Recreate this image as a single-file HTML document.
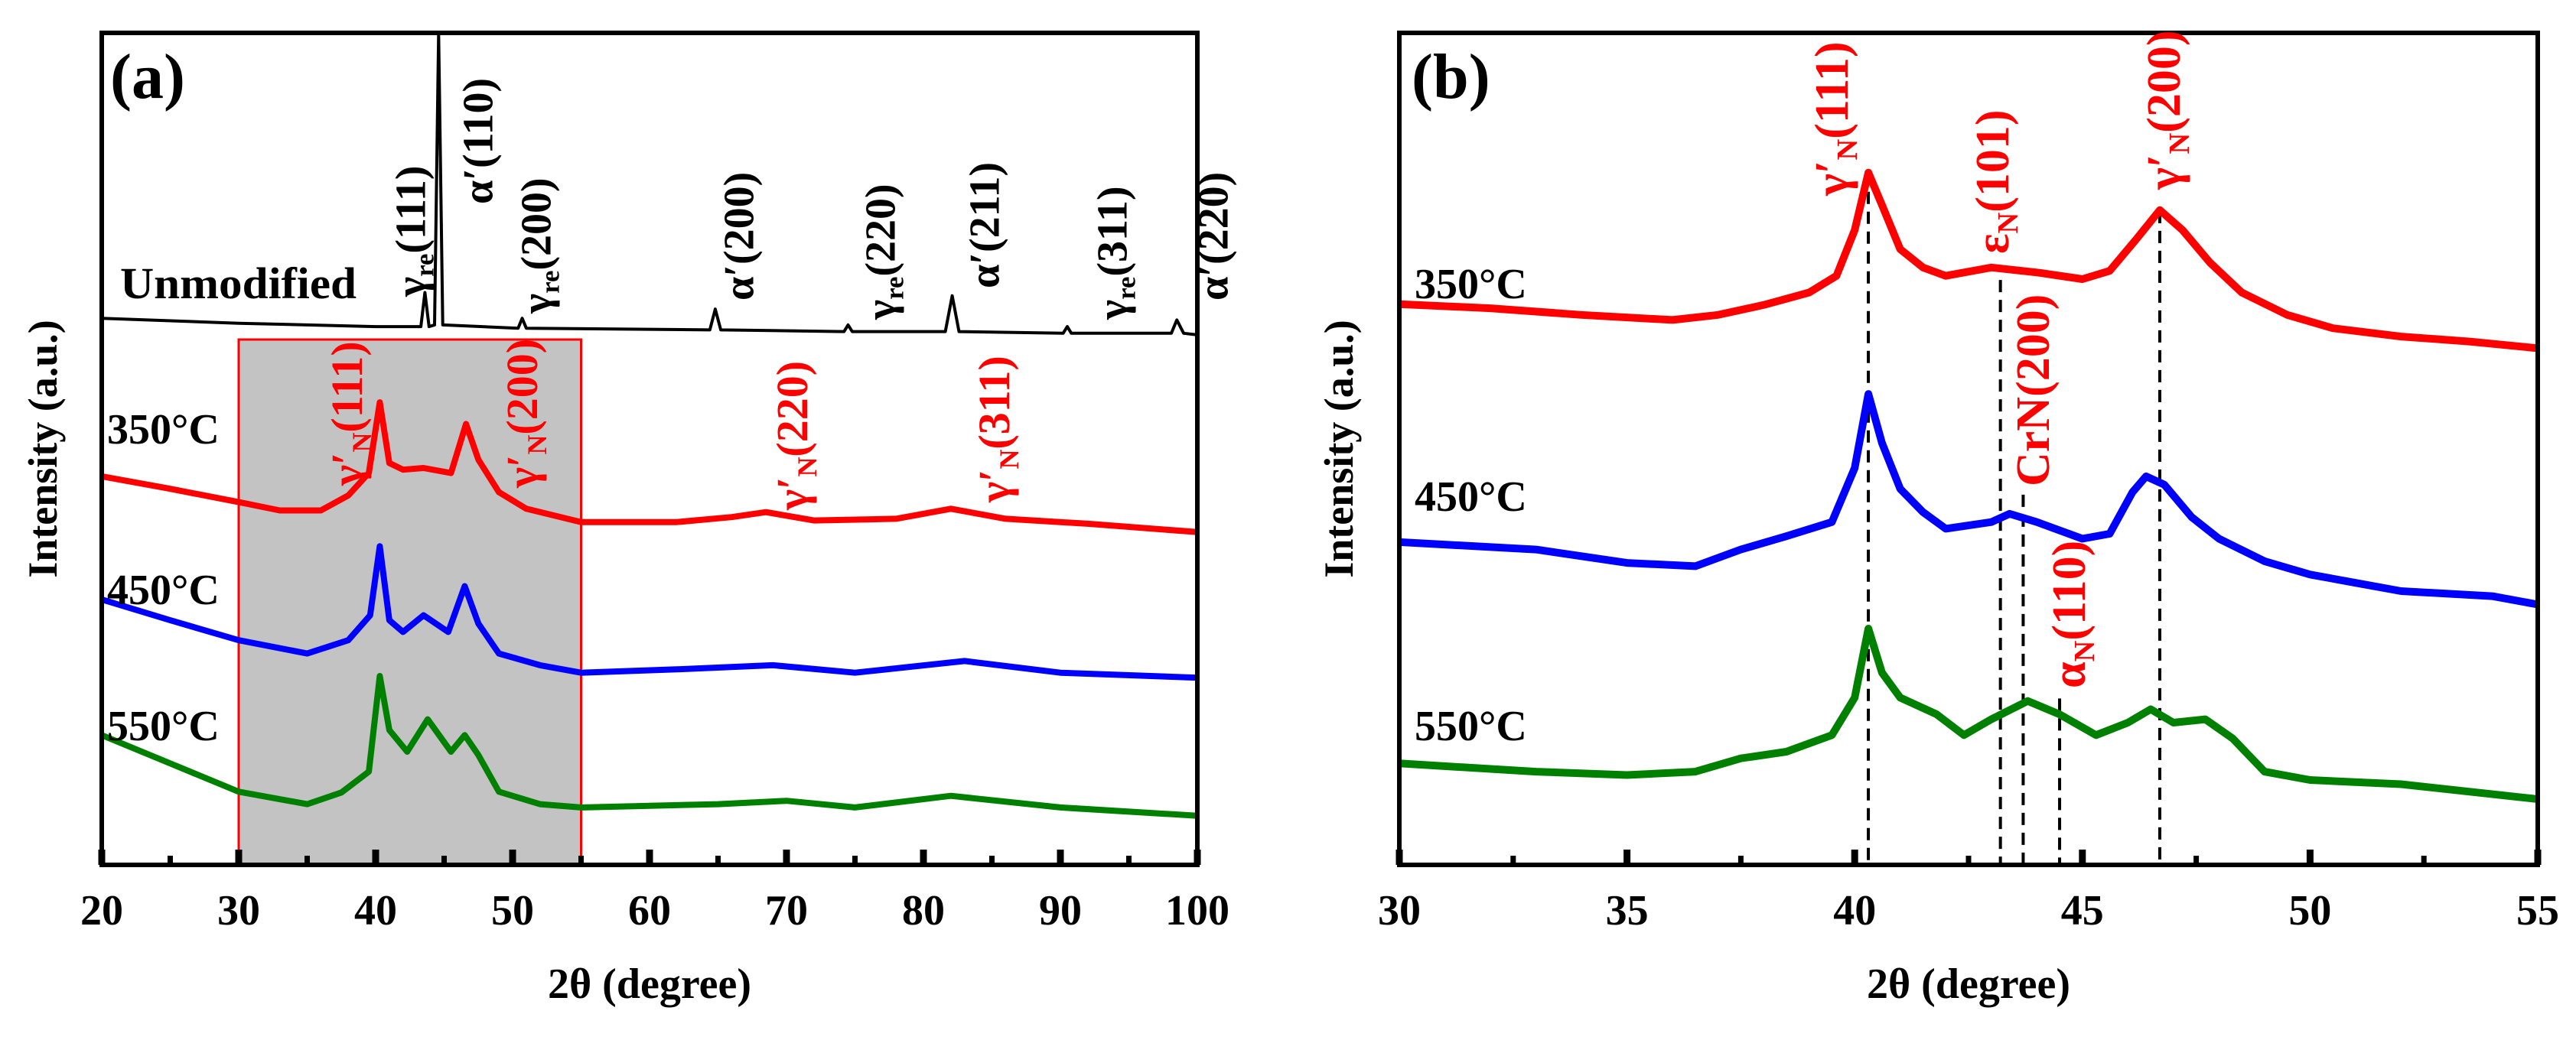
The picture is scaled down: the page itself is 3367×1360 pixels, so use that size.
<!DOCTYPE html>
<html><head><meta charset="utf-8"><style>
html,body{margin:0;padding:0;background:#fff}
svg{display:block}
text{font-family:"Liberation Serif",serif;font-weight:bold}
</style></head><body>
<svg id="fig" xmlns="http://www.w3.org/2000/svg" width="3367" height="1360" viewBox="0 0 3367 1360"></svg>
<script>
// ---------- data ----------
const aXTicks=[20,30,40,50,60,70,80,90,100];
const bXTicks=[30,35,40,45,50,55];
const aUnmodX=[20,30,40,43.3,43.6,43.9,44.3,44.6,44.9,50.4,50.7,51,64.4,64.8,65.2,74.2,74.5,74.8,81.6,82.1,82.6,90.2,90.5,90.8,98.1,98.5,99,100];
const aUnmodY=[65.7,65.1,64.7,64.7,68.8,64.7,64.9,100,64.9,64.5,65.7,64.5,64.3,66.8,64.3,64.1,64.9,64.1,64.1,68.4,64.1,63.9,64.7,63.9,63.9,65.5,63.9,63.7];
const a350X=[20,25,30,33,36,38,39.5,40.3,41,42,43.5,45.5,46.6,47.5,49,51,55,62,66,68.5,72,78,82,86,92,100];
const a350Y=[46.7,45.2,43.6,42.6,42.6,44.4,47.1,55.6,48.3,47.5,47.7,47.1,53.0,48.7,44.8,42.8,41.2,41.2,41.8,42.4,41.4,41.6,42.8,41.6,41.0,40.0];
const a450X=[20,25,30,35,38,39.6,40.3,41,42,43.5,45.3,46.5,47.5,49,52,55,62,69,75,83,90,100];
const a450Y=[31.9,29.4,27.0,25.4,27.0,30.0,38.3,29.4,28.0,30.0,28.0,33.5,29.0,25.4,24.0,23.1,23.5,24.0,23.1,24.5,23.1,22.5];
const a550X=[20,25,30,35,37.5,39.5,40.3,41,42.3,43.8,45.5,46.5,47.5,49,52,55,65,70,75,82,90,100];
const a550Y=[15.6,12.2,8.8,7.3,8.7,11.2,22.7,16.2,13.6,17.5,13.6,15.6,13.2,8.8,7.3,6.9,7.3,7.7,6.9,8.3,6.9,5.9];
const b350X=[30,32,34,36,37,38,39,39.6,40,40.3,40.6,41,41.5,42,43,44,45,45.6,46.2,46.7,47.2,47.8,48.5,49.5,50.5,52,53.5,55];
const b350Y=[67.4,66.9,66.1,65.5,66.1,67.3,68.8,70.8,76.3,83.2,79.3,74.0,71.8,70.8,71.8,71.2,70.4,71.4,75.3,78.7,76.3,72.4,68.8,66.1,64.5,63.5,62.9,62.1];
const b450X=[30,33,35,36.5,37.5,38.5,39.5,40,40.3,40.6,41,41.5,42,43,43.4,44,45,45.6,46.1,46.4,46.8,47.4,48,49,50,51,52,54,55];
const b450Y=[38.8,37.9,36.3,35.9,37.9,39.5,41.2,47.7,56.6,50.7,45.2,42.4,40.4,41.2,42.2,41.2,39.2,39.8,44.8,46.7,45.7,41.8,39.2,36.5,34.9,33.9,32.9,32.3,31.3];
const b550X=[30,33,35,36.5,37.5,38.5,39.5,40,40.3,40.6,41,41.8,42.4,43,43.8,44.5,45.3,46,46.5,47,47.7,48.3,49,50,52,55];
const b550Y=[12.2,11.2,10.8,11.2,12.8,13.6,15.6,20.1,28.4,23.1,20.1,18.1,15.6,17.5,19.7,18.1,15.6,17.1,18.7,17.1,17.5,15.2,11.2,10.2,9.7,7.9];
const bDashX=[40.3,43.2,43.7,44.5,46.7];
const bDashTop=[83.3,70.3,44.5,20,78.6];

// ---------- helpers ----------
const NS="http://www.w3.org/2000/svg";
const svg=document.getElementById('fig');
function mk(tag,attrs,parent){const e=document.createElementNS(NS,tag);for(const k in attrs)e.setAttribute(k,attrs[k]);(parent||svg).appendChild(e);return e;}
const TOP=43,BOT=1131;
function yS(v){return BOT-v*10.88;}
function axA(v){return 133+(v-20)*(1565-133)/80;}
function axB(v){return 1829+(v-30)*(3317-1829)/25;}

function panel(xs,ticks,minorStep,name){
  const g=mk('g',{});
  
  
  const lo=ticks[0],hi=ticks[ticks.length-1];
  for(let v=lo;v<=hi+1e-6;v+=minorStep){
    const major=ticks.some(t=>Math.abs(t-v)<1e-6);
    const t=mk('line',{x1:xs(v),x2:xs(v),y1:BOT,y2:BOT-(major?20:12),stroke:'#000','stroke-width':major?9:7},g);
    
    
  }
  ticks.forEach(v=>{
    const t=mk('text',{x:xs(v),y:1209,'font-size':56,'text-anchor':'middle'},g);
    t.textContent=v;
    
    
  });
  return g;
}
function curve(xs,X,Y,color,name,sw){
  const d=X.map((x,i)=>(i?'L':'M')+xs(x).toFixed(1)+','+Math.max(TOP,yS(Y[i])).toFixed(1)).join('');
  const p=mk('path',{d:d,fill:'none',stroke:color,'stroke-width':sw,'stroke-linejoin':'round'});
  
  
}
function label(x,y,txt,color,size,name,anchor){
  const t=mk('text',{x:x,y:y,fill:color,'font-size':size,'text-anchor':anchor||'start'});
  t.textContent=txt;
  
  
  return t;
}
// cx = visual column center, by = visual bottom
function vlabel(cx,by,parts,color,size,name){
  const t=mk('text',{transform:`translate(${cx+size*0.4-8},${by}) rotate(-90)`,fill:color,'font-size':size});
  parts.forEach(p=>{
    const s=mk('tspan',p[1]?{'font-size':size*0.62,dy:size*0.2}:{dy:p[2]?-size*0.2:0},t);
    s.textContent=p[0];
  });
  
  
}

// ---------- panel (a) ----------
const shade=mk('rect',{x:axA(30),y:444,width:axA(55)-axA(30),height:BOT-444,fill:'#c3c3c3',stroke:'#ff0000','stroke-width':3});


curve(axA,aUnmodX,aUnmodY,'#000','unmodified-curve',4);
curve(axA,a350X,a350Y,'#ff0000','curve-350c-a',8);
curve(axA,a450X,a450Y,'#0000ff','curve-450c-a',8);
curve(axA,a550X,a550Y,'#008000','curve-550c-a',8);
panel(axA,aXTicks,5,'panel-a');
const fa=mk('rect',{x:133,y:TOP,width:1565-133,height:BOT-TOP,fill:'none',stroke:'#000','stroke-width':6});


label(144,128,'(a)','#000',84,'panel-a-label');
const um=label(157,390,'Unmodified','#000',58,'unmodified-label');
um.setAttribute('textLength','309');
um.setAttribute('lengthAdjust','spacingAndGlyphs');
label(140,580,'350°C','#000',56,'label-350c-a');
label(140,790,'450°C','#000',56,'label-450c-a');
label(140,968,'550°C','#000',56,'label-550c-a');
label(849,1305,'2θ (degree)','#000',56,'x-axis-title-a','middle');
const ya=label(0,0,'Intensity (a.u.)','#000',54,'y-axis-title-a','middle');
ya.setAttribute('transform','translate(74,587) rotate(-90)');
const K='#000',R='#ff0000';
vlabel(541,388,[['γ'],['re',1],['(111)',0,1]],K,56,'peak-label-gamma-re-111');
vlabel(629,267,[["α′(110)"]],K,56,'peak-label-alpha-110');
vlabel(705,410,[['γ'],['re',1],['(200)',0,1]],K,56,'peak-label-gamma-re-200');
vlabel(970,393,[["α′(200)"]],K,56,'peak-label-alpha-200');
vlabel(1155,418,[['γ'],['re',1],['(220)',0,1]],K,56,'peak-label-gamma-re-220');
vlabel(1291,377,[["α′(211)"]],K,56,'peak-label-alpha-211');
vlabel(1458,418,[['γ'],['re',1],['(311)',0,1]],K,56,'peak-label-gamma-re-311');
vlabel(1590,393,[["α′(220)"]],K,56,'peak-label-alpha-220');
vlabel(458,635,[['γ′'],['N',1],['(111)',0,1]],R,58,'peak-label-gamma-n-111-a');
vlabel(687,638,[['γ′'],['N',1],['(200)',0,1]],R,58,'peak-label-gamma-n-200-a');
vlabel(1040,667,[['γ′'],['N',1],['(220)',0,1]],R,58,'peak-label-gamma-n-220');
vlabel(1304,657,[['γ′'],['N',1],['(311)',0,1]],R,58,'peak-label-gamma-n-311');

// ---------- panel (b) ----------
bDashX.forEach((x,i)=>{
  const l=mk('line',{x1:axB(x),x2:axB(x),y1:yS(bDashTop[i]),y2:BOT,stroke:'#000','stroke-width':4,'stroke-dasharray':'16,10'});
  
  
});
curve(axB,b350X,b350Y,'#ff0000','curve-350c-b',10);
curve(axB,b450X,b450Y,'#0000ff','curve-450c-b',10);
curve(axB,b550X,b550Y,'#008000','curve-550c-b',10);
panel(axB,bXTicks,2.5,'panel-b');
const fb=mk('rect',{x:1829,y:TOP,width:3317-1829,height:BOT-TOP,fill:'none',stroke:'#000','stroke-width':6});


label(1845,128,'(b)','#000',84,'panel-b-label');
label(1849,390,'350°C','#000',56,'label-350c-b');
label(1849,668,'450°C','#000',56,'label-450c-b');
label(1849,968,'550°C','#000',56,'label-550c-b');
label(2573,1305,'2θ (degree)','#000',56,'x-axis-title-b','middle');
const yb=label(0,0,'Intensity (a.u.)','#000',54,'y-axis-title-b','middle');
yb.setAttribute('transform','translate(1768,587) rotate(-90)');
vlabel(2398,256,[['γ′'],['N',1],['(111)',0,1]],R,62,'peak-label-gamma-n-111-b');
vlabel(2608,332,[['ε'],['N',1],['(101)',0,1]],R,62,'peak-label-epsilon-n-101');
vlabel(2661,636,[['CrN(200)']],R,62,'peak-label-crn-200');
vlabel(2708,900,[['α'],['N',1],['(110)',0,1]],R,62,'peak-label-alpha-n-110');
vlabel(2832,248,[['γ′'],['N',1],['(200)',0,1]],R,62,'peak-label-gamma-n-200-b');
</script>
</body></html>
